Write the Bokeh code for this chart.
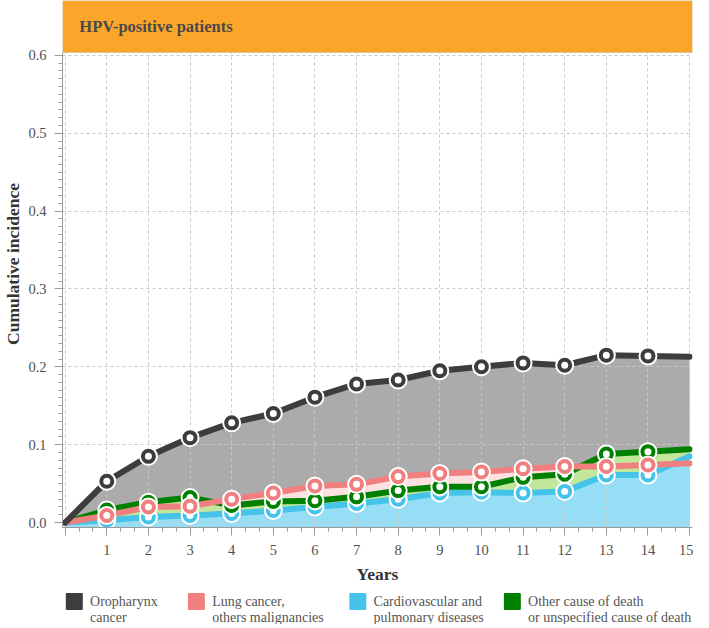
from bokeh.plotting import figure
from bokeh.models import Range1d, FixedTicker, BoxAnnotation, Label
from bokeh.layouts import column
from bokeh.core.properties import value
from bokeh.embed import file_html
from bokeh.resources import INLINE

# ---- data ----
years = [0, 1, 2, 3, 4, 5, 6, 7, 8, 9, 10, 11, 12, 13, 14, 15]
oropharynx = [0.0, 0.053, 0.085, 0.109, 0.128, 0.140, 0.161, 0.178, 0.183, 0.195, 0.200, 0.205, 0.202, 0.215, 0.214, 0.213]
lung = [0.0, 0.009, 0.020, 0.021, 0.030, 0.038, 0.047, 0.049, 0.059, 0.063, 0.065, 0.069, 0.072, 0.072, 0.074, 0.076]
cardio = [0.0, 0.003, 0.007, 0.009, 0.0115, 0.0155, 0.020, 0.0245, 0.030, 0.038, 0.039, 0.038, 0.040, 0.061, 0.061, 0.085]
other = [0.0, 0.016, 0.026, 0.032, 0.022, 0.027, 0.028, 0.033, 0.041, 0.046, 0.046, 0.058, 0.062, 0.088, 0.091, 0.094]
point_years = years[1:15]

x_ticks = list(range(0, 16))
y_ticks = [0.0, 0.1, 0.2, 0.3, 0.4, 0.5, 0.6]
y_labels = {0.0: "0.0", 0.1: "0.1", 0.2: "0.2", 0.3: "0.3", 0.4: "0.4", 0.5: "0.5", 0.6: "0.6"}

legend_line1 = ["Oropharynx", "Lung cancer,", "Cardiovascular and", "Other cause of death"]
legend_line2 = ["cancer", "others malignancies", "pulmonary diseases", "or unspecified cause of death"]
panel_title = "HPV-positive patients"

# ---- styles ----
X_START, X_END = -0.064, 15.07
Y_START, Y_END = -0.0064, 0.6705
STRIP_BOTTOM = 0.6038
FONT = "Liberation Serif"

col_oro, col_lung, col_cv, col_oth = "#3d3d3d", "#f08080", "#45c3e8", "#008000"
fill_oro, fill_lung, fill_cv, fill_oth = "#ababab", "#fde0e0", "#96ddf6", "#c2e79a"
legend_colors = [col_oro, col_lung, col_cv, col_oth]
legend_x = [64, 188, 352, 509]   # legend layout positions (px)

p = figure(width=693, height=586, output_backend="svg", toolbar_location=None,
           x_range=Range1d(X_START, X_END), y_range=Range1d(Y_START, Y_END),
           min_border_top=0, min_border_right=1, min_border_left=52, min_border_bottom=58)
p.outline_line_color = None
p.background_fill_color = "white"

# areas
for yv, fc in [(oropharynx, fill_oro), (lung, fill_lung), (other, fill_oth), (cardio, fill_cv)]:
    r = p.varea(x=years, y1=[Y_START] * len(years), y2=yv, fill_color=fc, fill_alpha=1.0)
    r.level = "image"

# lines
for yv, c in [(cardio, col_cv), (other, col_oth), (lung, col_lung), (oropharynx, col_oro)]:
    p.line(years, yv, line_color=c, line_width=6, line_join="round", line_cap="round")

# points
for yv, c in [(cardio, col_cv), (other, col_oth), (lung, col_lung), (oropharynx, col_oro)]:
    pts = yv[1:15]
    p.scatter(point_years, pts, size=17, fill_color=c, line_color="white", line_width=2)
    p.scatter(point_years, pts, size=7, fill_color="white", line_color=None)

# strip
p.add_layout(BoxAnnotation(bottom=STRIP_BOTTOM, fill_color="#fba62a", fill_alpha=1.0,
                           line_color="#a0a0a0", line_width=1))
p.add_layout(Label(x=0.34, y=(STRIP_BOTTOM + Y_END) / 2, text=panel_title, text_baseline="middle",
                   text_font=FONT, text_font_style="bold", text_font_size="16.5px", text_color="#4a4a4a"))

# axes
xminor = [i / 3 for i in range(0, 46)]
yminor = [i / 100 for i in range(0, 61)]
p.xaxis.ticker = FixedTicker(ticks=x_ticks, minor_ticks=xminor)
p.yaxis.ticker = FixedTicker(ticks=y_ticks, minor_ticks=yminor)
p.xaxis.major_label_overrides = {0: ""}
p.yaxis.major_label_overrides = y_labels
p.yaxis.bounds = (Y_START, STRIP_BOTTOM)

for ax in [p.xaxis[0], p.yaxis[0]]:
    ax.axis_line_color = "#9a9a9a"
    ax.major_tick_line_color = "#9a9a9a"
    ax.minor_tick_line_color = "#9a9a9a"
    ax.major_tick_out = 8
    ax.major_tick_in = 0
    ax.minor_tick_out = 4
    ax.minor_tick_in = 0
    ax.major_label_text_font = FONT
    ax.major_label_text_font_size = "14.5px"
    ax.major_label_text_color = "#505050"
    ax.axis_label_text_font = FONT
    ax.axis_label_text_font_style = "bold"
    ax.axis_label_text_font_size = "17.5px"
    ax.axis_label_text_color = "#333333"

p.xaxis.axis_label = "Years"
p.yaxis.axis_label = "Cumulative incidence"
p.yaxis.major_label_standoff = 8
p.yaxis.axis_label_standoff = 2
p.xaxis.major_label_standoff = 9
p.xaxis.axis_label_standoff = 6

for g in [p.xgrid[0], p.ygrid[0]]:
    g.grid_line_color = "#c8c8c8"
    g.grid_line_dash = "3 3"
    g.grid_line_width = 1
    g.level = "underlay"
p.xgrid.ticker = FixedTicker(ticks=x_ticks)
p.ygrid.ticker = FixedTicker(ticks=y_ticks)

# legend as its own small figure (frame aligned with the main plot's frame)
LEG_H = 38
lg = figure(width=693, height=LEG_H, output_backend="svg", toolbar_location=None,
            x_range=Range1d(52, 692), y_range=Range1d(0, LEG_H),
            min_border=0, min_border_left=0, min_border_right=0, min_border_top=0, min_border_bottom=0)
lg.axis.visible = False
lg.grid.visible = False
lg.outline_line_color = None
row1_y = 23
row2_y = 7
lg.scatter(legend_x, [row1_y] * 4, marker="square", size=15, fill_color=legend_colors,
           line_color=legend_colors, line_width=2, line_join="round")
tx = [x + 16 for x in legend_x]
lg.text(tx, [row1_y] * 4, text=legend_line1, text_baseline="middle", text_align="left",
        text_font=value(FONT), text_font_size="14px", text_color="#555555")
lg.text(tx, [row2_y] * 4, text=legend_line2, text_baseline="middle", text_align="left",
        text_font=value(FONT), text_font_size="14px", text_color="#555555")

layout = column(p, lg, spacing=0)
open("out.html", "w").write(file_html(layout, INLINE))
